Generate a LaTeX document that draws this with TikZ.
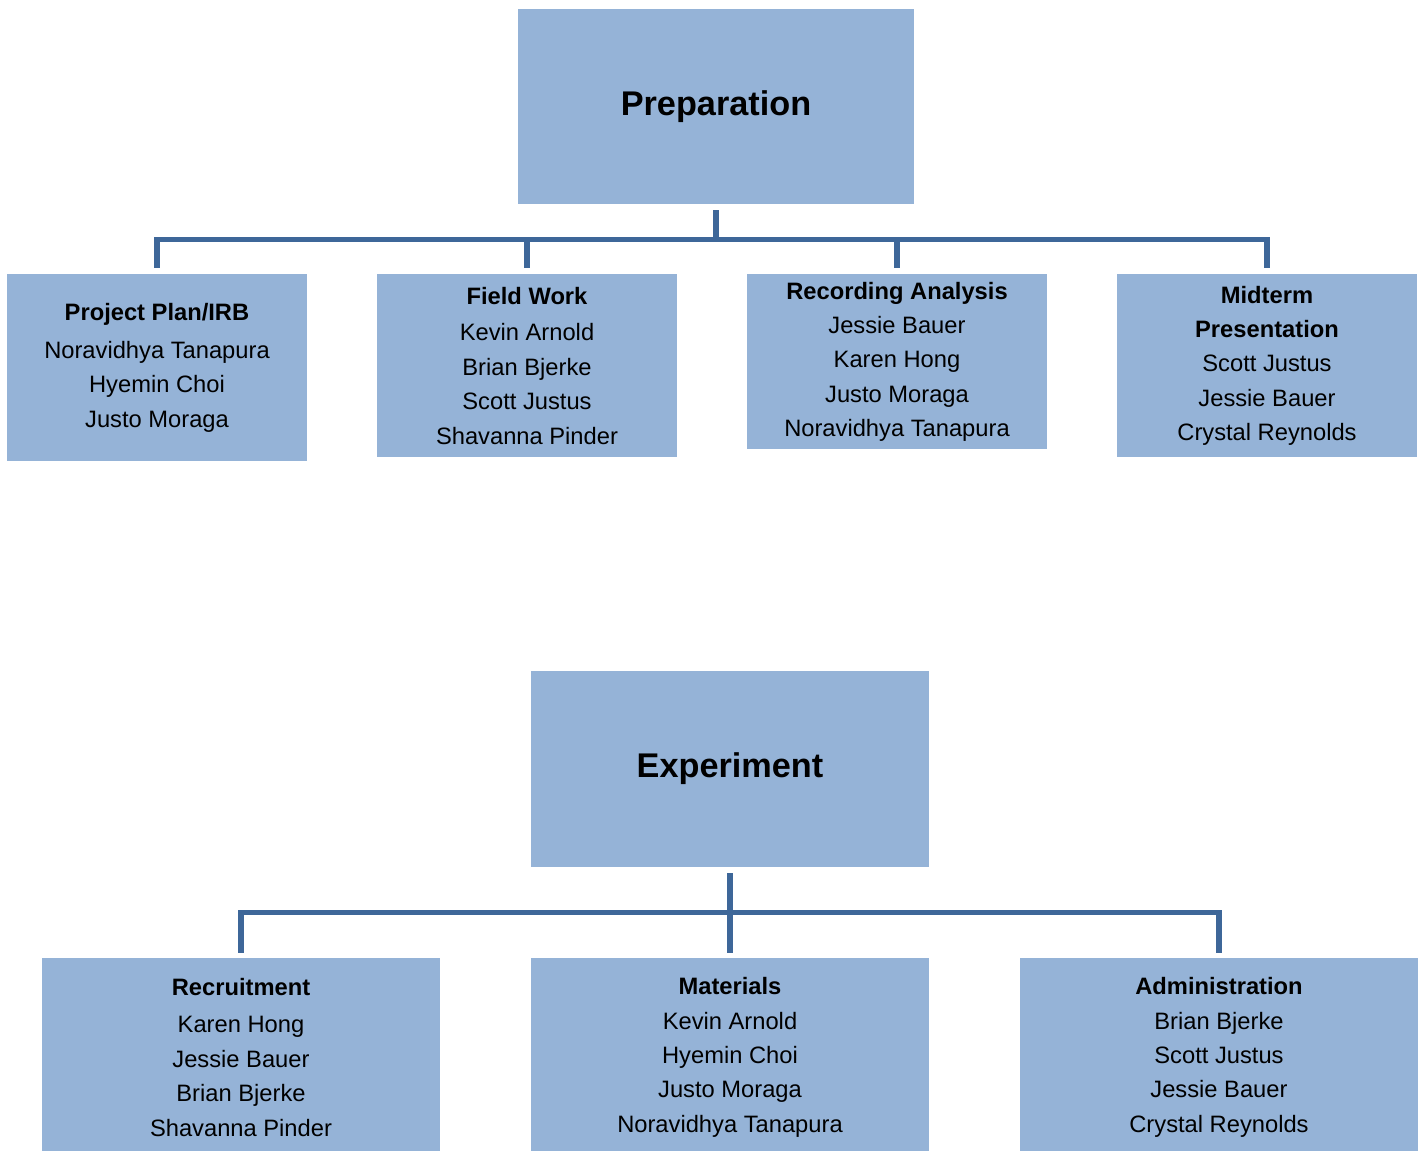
\documentclass[tikz,border=0pt]{standalone}
\usepackage{fontspec}
\setmainfont{Liberation Sans}
\definecolor{boxblue}{HTML}{95B3D7}
\definecolor{linkblue}{HTML}{3E6799}
\begin{document}
\begin{tikzpicture}[x=0.02cm,y=-0.02cm,
  phase/.style={fill=boxblue, minimum width=7.94cm, minimum height=3.9cm, font=\fontsize{19.5}{23}\selectfont\bfseries},
  task/.style={fill=boxblue, anchor=north, align=center, minimum width=6cm, inner sep=0pt, font=\fontsize{13.5}{19.6}\selectfont},
  wide/.style={task, minimum width=7.96cm},
  link/.style={draw=linkblue, line width=2.9pt, shorten <=0.12cm, shorten >=0.11cm}]
\useasboundingbox (0,0) rectangle (1421,1151);
% preparation
\node[phase] (prep) at (716,106.5) {Preparation};
\node[task, minimum height=3.74cm] (plan) at (157,274) {\textbf{Project Plan/IRB}\\[2pt]Noravidhya Tanapura\\Hyemin Choi\\Justo Moraga};
\node[task, minimum height=3.66cm] (field) at (527,274) {\textbf{Field Work}\\[1pt]Kevin Arnold\\Brian Bjerke\\Scott Justus\\Shavanna Pinder};
\node[task, minimum height=3.5cm] (rec) at (897,274) {\textbf{Recording Analysis}\\Jessie Bauer\\Karen Hong\\Justo Moraga\\Noravidhya Tanapura};
\node[task, minimum height=3.66cm] (mid) at (1267,274) {\textbf{Midterm}\\\textbf{Presentation}\\Scott Justus\\Jessie Bauer\\Crystal Reynolds};
\draw[link] (prep.south) -- ++(0,35) -| (plan.north);
\draw[link] (prep.south) -- ++(0,35) -| (field.north);
\draw[link] (prep.south) -- ++(0,35) -| (rec.north);
\draw[link] (prep.south) -- ++(0,35) -| (mid.north);
% experiment
\node[phase, minimum width=7.96cm, minimum height=3.92cm] (exp) at (730,769) {Experiment};
\node[wide, minimum height=3.96cm] (recruit) at (241,958) {\textbf{Recruitment}\\[1.7pt]Karen Hong\\Jessie Bauer\\Brian Bjerke\\Shavanna Pinder};
\node[wide, minimum height=3.96cm] (mat) at (730,958) {\textbf{Materials}\\Kevin Arnold\\Hyemin Choi\\Justo Moraga\\Noravidhya Tanapura};
\node[wide, minimum height=3.96cm] (admin) at (1219,958) {\textbf{Administration}\\Brian Bjerke\\Scott Justus\\Jessie Bauer\\Crystal Reynolds};
\draw[link] (exp.south) -- ++(0,45.5) -| (recruit.north);
\draw[link] (exp.south) -- (mat.north);
\draw[link] (exp.south) -- ++(0,45.5) -| (admin.north);
\end{tikzpicture}
\end{document}
